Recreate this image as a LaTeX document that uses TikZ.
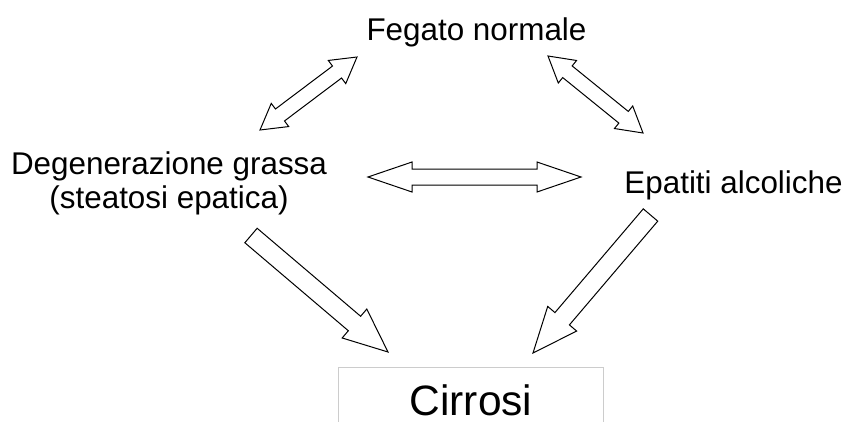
\documentclass[tikz,border=0pt]{standalone}
\usepackage{fontspec}
\setmainfont{Liberation Sans}
\usetikzlibrary{calc}

% Hollow block arrows: start, end, shaft half-width, head half-width, head length (all in pt)
\newcommand\blockdouble[5]{%
  \coordinate (#1-h1) at ($(#1)!#5pt!(#2)$);
  \coordinate (#1-h2) at ($(#2)!#5pt!(#1)$);
  \draw[blockarrow] (#1)
    -- ($(#1-h1)!#4pt!90:(#2)$) -- ($(#1-h1)!#3pt!90:(#2)$)
    -- ($(#1-h2)!#3pt!-90:(#1)$) -- ($(#1-h2)!#4pt!-90:(#1)$)
    -- (#2)
    -- ($(#1-h2)!#4pt!90:(#1)$) -- ($(#1-h2)!#3pt!90:(#1)$)
    -- ($(#1-h1)!#3pt!-90:(#2)$) -- ($(#1-h1)!#4pt!-90:(#2)$)
    -- cycle;}
\newcommand\blocksingle[5]{%
  \coordinate (#1-h) at ($(#2)!#5pt!(#1)$);
  \draw[blockarrow] ($(#1)!#3pt!90:(#2)$)
    -- ($(#1-h)!#3pt!-90:(#1)$) -- ($(#1-h)!#4pt!-90:(#1)$)
    -- (#2)
    -- ($(#1-h)!#4pt!90:(#1)$) -- ($(#1-h)!#3pt!90:(#1)$)
    -- ($(#1)!#3pt!-90:(#2)$)
    -- cycle;}

\tikzset{
  blockarrow/.style={draw=black, fill=white, line width=1pt, line join=miter},
  label/.style={font=\fontsize{31.4}{34}\selectfont, inner sep=0pt, align=center},
  finallabel/.style={font=\fontsize{42.5}{46}\selectfont, inner sep=0pt},
  boxline/.style={draw=black!20, line width=1pt}
}

\begin{document}
\begin{tikzpicture}[x=1pt,y=1pt]
  \useasboundingbox (0,0) rectangle (846,-421);
  \clip (0,0) rectangle (846,-421);

  % stages
  \node[label, anchor=base] (normale) at (476.5,-40) {Fegato normale};
  \node[label] (steatosi) at (169,-183) {Degenerazione grassa\\(steatosi epatica)};
  \node[label, anchor=base] (epatiti) at (733.5,-193) {Epatiti alcoliche};
  \node[finallabel, anchor=base] (cirrosi) at (471,-415) {Cirrosi};
  % open-bottomed frame round the final stage
  \draw[boxline] ([xshift=-133pt,yshift=-20pt]cirrosi.base)
    |- ([xshift=132pt,yshift=48pt]cirrosi.base)
    -- ([xshift=132pt,yshift=-20pt]cirrosi.base);

  % arrow end points
  \coordinate (a1) at (260,-130);   \coordinate (b1) at (357,-57);
  \coordinate (a2) at (548,-56);    \coordinate (b2) at (643,-133);
  \coordinate (a3) at (368,-177);   \coordinate (b3) at (581,-177);
  \coordinate (a4) at (251,-235.5); \coordinate (b4) at (388,-352);
  \coordinate (a5) at (650.5,-215); \coordinate (b5) at (533,-353);

  % reversible transitions
  \blockdouble{a1}{b1}{7.5}{14.5}{25}
  \blockdouble{a2}{b2}{7.5}{14.5}{25}
  \blockdouble{a3}{b3}{8}{15}{44}

  % progression to cirrhosis
  \blocksingle{a4}{b4}{9.5}{19}{44}
  \blocksingle{a5}{b5}{9.5}{19}{45}
\end{tikzpicture}
\end{document}
